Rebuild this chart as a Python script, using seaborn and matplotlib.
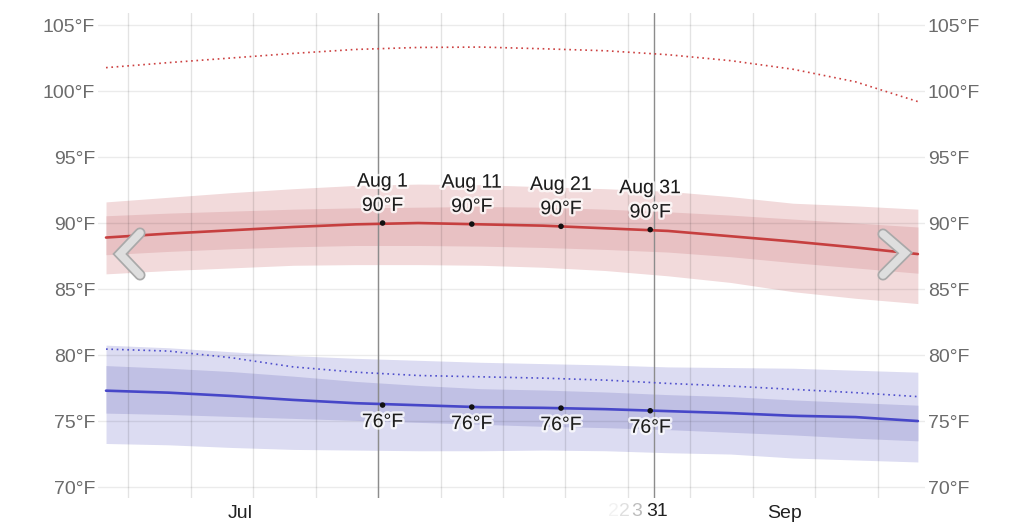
import matplotlib
matplotlib.use("Agg")
import matplotlib.pyplot as plt
import matplotlib.patheffects as pe
import matplotlib.transforms as mtransforms
import seaborn as sns
import pandas as pd

# ---- data (day of year; Jul 1 = 182) ----
days = [182, 189, 196, 203, 210, 217, 224, 231, 238, 245, 252, 259, 266, 273]

high_mean = [88.9, 89.2, 89.45, 89.7, 89.9, 90.0, 89.9, 89.8, 89.6, 89.4, 89.0, 88.6, 88.15, 87.65]
high_p90 = [91.6, 91.95, 92.3, 92.6, 92.85, 92.95, 92.9, 92.75, 92.6, 92.4, 92.0, 91.5, 91.3, 91.05]
high_p10 = [86.15, 86.4, 86.6, 86.8, 86.85, 86.85, 86.8, 86.65, 86.4, 86.0, 85.5, 84.8, 84.3, 83.9]
high_p75 = [90.55, 90.75, 90.9, 91.05, 91.15, 91.2, 91.25, 91.2, 91.05, 90.85, 90.6, 90.3, 90.0, 89.7]
high_p25 = [87.6, 87.85, 88.05, 88.2, 88.3, 88.3, 88.25, 88.15, 88.0, 87.8, 87.45, 87.0, 86.6, 86.2]
high_dotted = [101.77, 102.15, 102.5, 102.85, 103.15, 103.3, 103.33, 103.2, 103.05, 102.75, 102.3, 101.65, 100.7, 99.2]

low_mean = [77.3, 77.15, 76.9, 76.6, 76.35, 76.2, 76.05, 76.0, 75.9, 75.75, 75.6, 75.4, 75.3, 75.0]
low_p90 = [80.75, 80.55, 80.25, 79.95, 79.75, 79.6, 79.45, 79.35, 79.25, 79.1, 79.05, 79.0, 78.85, 78.7]
low_p10 = [73.3, 73.2, 73.0, 72.85, 72.8, 72.75, 72.75, 72.8, 72.75, 72.6, 72.5, 72.2, 72.05, 71.9]
low_p75 = [79.2, 79.0, 78.75, 78.4, 78.0, 77.7, 77.45, 77.35, 77.2, 77.0, 76.85, 76.6, 76.4, 76.2]
low_p25 = [75.6, 75.5, 75.35, 75.2, 75.05, 74.9, 74.75, 74.6, 74.5, 74.35, 74.15, 73.95, 73.7, 73.5]
low_dotted = [80.45, 80.3, 79.8, 79.1, 78.7, 78.45, 78.35, 78.25, 78.1, 77.85, 77.65, 77.4, 77.15, 76.85]

marker_days = [213, 223, 233, 243]
marker_names = ["Aug 1", "Aug 11", "Aug 21", "Aug 31"]
marker_high = [90.0, 89.92, 89.75, 89.5]
marker_low = [76.21, 76.06, 75.98, 75.78]
marker_high_labels = ["90°F", "90°F", "90°F", "90°F"]
marker_low_labels = ["76°F", "76°F", "76°F", "76°F"]

hover_days = [212.5, 243.4]
week_grid = [184.5, 191.5, 198.5, 205.5, 212.5, 219.5, 226.5, 233.5, 240.5, 247.5, 254.5, 261.5, 268.5]
month_ticks = [197, 258]
month_labels = ["Jul", "Sep"]
yticks = [70, 75, 80, 85, 90, 95, 100, 105]

# ---- style ----
sns.set_theme(style="white")
plt.rcParams["font.family"] = ["Liberation Sans", "DejaVu Sans"]

fig = plt.figure(figsize=(10.24, 5.26), dpi=100)
ax = fig.add_axes([98 / 1024, 1 - 498 / 526, 827 / 1024, 485 / 526])

df = pd.DataFrame({"day": days, "high": high_mean, "low": low_mean,
                   "hd": high_dotted, "ld": low_dotted})

RED_OUT, RED_IN, RED = "#f2dadb", "#e8c1c3", "#c63f3f"
BLU_OUT, BLU_IN, BLU = "#dcdcf2", "#c0c0e4", "#4747c8"

ax.fill_between(days, high_p10, high_p90, color=RED_OUT, lw=0, zorder=0.2)
ax.fill_between(days, high_p25, high_p75, color=RED_IN, lw=0, zorder=0.3)
ax.fill_between(days, low_p10, low_p90, color=BLU_OUT, lw=0, zorder=0.2)
ax.fill_between(days, low_p25, low_p75, color=BLU_IN, lw=0, zorder=0.3)

sns.lineplot(data=df, x="day", y="high", ax=ax, color=RED, lw=1.9, zorder=3)
sns.lineplot(data=df, x="day", y="low", ax=ax, color=BLU, lw=1.9, zorder=3)
sns.lineplot(data=df, x="day", y="hd", ax=ax, color="#cc4040", lw=1.2,
             linestyle=(0, (1, 2.2)), zorder=3)
sns.lineplot(data=df, x="day", y="ld", ax=ax, color="#4f4fcc", lw=1.2,
             linestyle=(0, (1, 2.2)), zorder=3)

for d in hover_days:
    ax.axvline(d, color="#8c8c8c", lw=1.0, zorder=2)

sns.scatterplot(x=marker_days, y=marker_high, ax=ax, color="#111111", s=16,
                edgecolor="none", zorder=5)
sns.scatterplot(x=marker_days, y=marker_low, ax=ax, color="#111111", s=16,
                edgecolor="none", zorder=5)

halo = [pe.withStroke(linewidth=3.5, foreground=(1, 1, 1, 0.75))]
for d, n, v, lab in zip(marker_days, marker_names, marker_high, marker_high_labels):
    ax.annotate(lab, (d, v), xytext=(0, 12), textcoords="offset points",
                ha="center", va="center", fontsize=14, color="#1c1c1c",
                path_effects=halo, zorder=6)
    ax.annotate(n, (d, v), xytext=(0, 29.5), textcoords="offset points",
                ha="center", va="center", fontsize=14, color="#1c1c1c",
                path_effects=halo, zorder=6)
for d, v, lab in zip(marker_days, marker_low, marker_low_labels):
    ax.annotate(lab, (d, v), xytext=(0, -12.6), textcoords="offset points",
                ha="center", va="center", fontsize=14, color="#1c1c1c",
                path_effects=halo, zorder=6)

# axes
ax.set_xlim(181.1, 273.8)
ax.set_ylim(69.17, 105.91)
ax.set_xticks(month_ticks)
ax.set_xticklabels(month_labels)
ax.set_xticks(week_grid, minor=True)
ax.set_yticks(yticks)
ax.set_yticklabels([f"{v}°F" for v in yticks])
ax.tick_params(axis="x", which="both", length=0, pad=5, labelsize=14, labelcolor="#222222")
ax.tick_params(axis="y", length=0, pad=2, labelsize=14, labelcolor="#6b6b6b",
               labelleft=True, labelright=True)
ax.grid(axis="y", which="major", color="black", alpha=0.08, lw=1.0)
ax.grid(axis="x", which="minor", color="black", alpha=0.11, lw=1.0)
ax.grid(axis="x", which="major", visible=False)
ax.set_axisbelow(True)
for s in ax.spines.values():
    s.set_visible(False)
ax.set_xlabel("")
ax.set_ylabel("")

# residual day label under Aug 31
trans = mtransforms.blended_transform_factory(ax.transData, ax.transAxes)
for xx, t, a in [(238.9, "2", 0.06), (240.1, "2", 0.14), (241.5, "3", 0.3)]:
    ax.text(xx, -0.027, t, transform=trans, ha="center", va="center",
            fontsize=14, color="#222222", alpha=a)
ax.text(243.8, -0.027, "31", transform=trans, ha="center", va="center",
        fontsize=14, color="#222222")

# navigation chevrons
chev = [pe.Stroke(linewidth=8, foreground="#a9a9a9"), pe.Normal()]
ax.plot([0.0508, 0.0266, 0.0508], [0.5464, 0.5031, 0.4598], transform=ax.transAxes,
        color="#dedede", lw=5.5, solid_capstyle="round", solid_joinstyle="miter",
        path_effects=chev, zorder=8, clip_on=False)
ax.plot([0.9492, 0.9758, 0.9492], [0.5443, 0.5052, 0.4598], transform=ax.transAxes,
        color="#dedede", lw=5.5, solid_capstyle="round", solid_joinstyle="miter",
        path_effects=chev, zorder=8, clip_on=False)

fig.savefig("out.png", dpi=100)
